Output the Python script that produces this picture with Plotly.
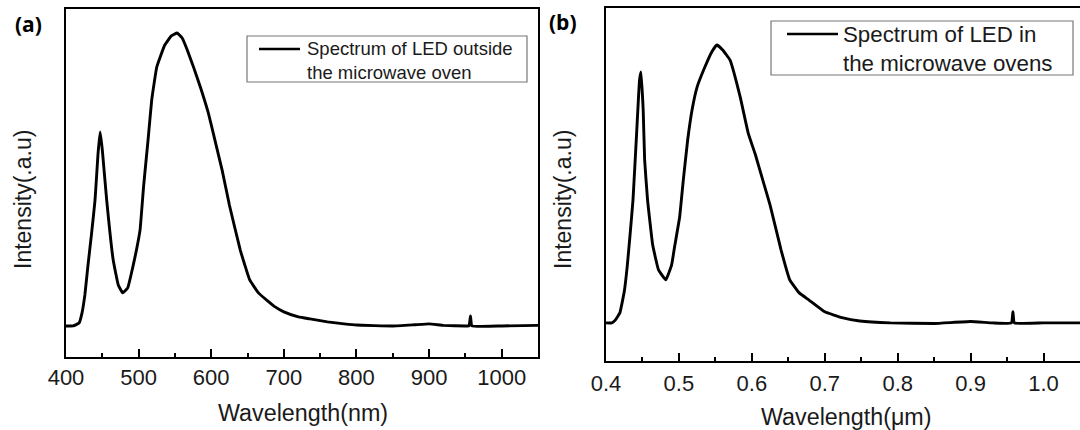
import plotly.graph_objects as go

# ---------------- data ----------------
wl_a = [400, 410, 418, 422, 426, 430, 435, 440, 444, 447, 450, 456, 465, 472, 478, 485,
        492, 497, 502, 507, 513, 518, 525, 536, 545, 553, 560, 567, 576, 585, 596, 605,
        615, 625, 640, 653, 665, 678, 688, 700, 720, 736, 760, 783, 800, 850, 880, 900,
        920, 950, 955, 957, 959, 1000, 1050]
int_a = [0.0, 0.0, 0.010, 0.044, 0.106, 0.201, 0.311, 0.430, 0.584, 0.662, 0.601, 0.430,
         0.225, 0.140, 0.113, 0.130, 0.201, 0.259, 0.328, 0.481, 0.635, 0.771, 0.884,
         0.959, 0.990, 1.0, 0.983, 0.942, 0.881, 0.816, 0.727, 0.635, 0.532, 0.413,
         0.259, 0.157, 0.113, 0.085, 0.065, 0.048, 0.031, 0.024, 0.014, 0.007, 0.003,
         0.0, 0.004, 0.007, 0.002, 0.0, 0.0, 0.034, 0.0, 0.0, 0.002]

wl_b = [0.400, 0.408, 0.413, 0.419, 0.425, 0.429, 0.433, 0.437, 0.442, 0.446, 0.448,
        0.451, 0.453, 0.457, 0.464, 0.472, 0.482, 0.490, 0.494, 0.501, 0.506, 0.512,
        0.518, 0.525, 0.535, 0.545, 0.552, 0.560, 0.570, 0.584, 0.595, 0.605, 0.615,
        0.625, 0.640, 0.652, 0.665, 0.678, 0.700, 0.725, 0.748, 0.790, 0.850, 0.900,
        0.930, 0.956, 0.958, 0.960, 1.000, 1.050]
int_b = [0.0, 0.0, 0.011, 0.036, 0.112, 0.201, 0.317, 0.442, 0.683, 0.874, 0.903,
         0.766, 0.586, 0.442, 0.281, 0.191, 0.155, 0.209, 0.273, 0.381, 0.514, 0.658,
         0.766, 0.849, 0.917, 0.975, 1.0, 0.982, 0.946, 0.813, 0.683, 0.604, 0.514,
         0.424, 0.263, 0.155, 0.108, 0.083, 0.040, 0.018, 0.007, 0.0, -0.002, 0.005,
         0.0, 0.0, 0.040, 0.0, 0.0, 0.0]

ticks_a = [400, 500, 600, 700, 800, 900, 1000]
ticks_b = [0.4, 0.5, 0.6, 0.7, 0.8, 0.9, 1.0]

label_a = "Spectrum of LED outside<br>the microwave oven"
label_b = "Spectrum of LED in<br>the microwave ovens"

# ---------------- figure ----------------
W, H = 1080, 430
def px(x):
    return x / W
def py(y):
    return 1 - y / H

FONT = "Liberation Sans, Arial, sans-serif"
TXT = "#1a1a1a"

fig = go.Figure()
fig.add_trace(go.Scatter(x=wl_a, y=int_a, mode="lines", xaxis="x", yaxis="y",
                         line=dict(color="black", width=2.9, shape="spline", smoothing=0.3),
                         showlegend=False))
fig.add_trace(go.Scatter(x=wl_b, y=int_b, mode="lines", xaxis="x2", yaxis="y2",
                         line=dict(color="black", width=2.9, shape="spline", smoothing=0.3),
                         showlegend=False))

xcommon = dict(showgrid=False, zeroline=False, showline=True, linecolor="black", linewidth=2,
               ticks="inside", ticklen=8, tickwidth=2, tickcolor="black", automargin=False,
               tickfont=dict(family=FONT, size=22, color=TXT))
ycommon = dict(showgrid=False, zeroline=False, showline=True, linecolor="black", linewidth=2,
               showticklabels=False, ticks="", automargin=False)

fig.update_layout(
    width=W, height=H, margin=dict(l=0, r=0, t=0, b=0, autoexpand=False),
    paper_bgcolor="white", plot_bgcolor="white",
    xaxis=dict(domain=[px(66), px(538)], range=[400, 1050], anchor="y", mirror=True,
               tickvals=ticks_a, ticklabelstandoff=0,
               minor=dict(ticks="inside", ticklen=4, tickwidth=2, tickcolor="black", dtick=50,
                          tick0=0, showgrid=False),
               **xcommon),
    yaxis=dict(domain=[py(357), py(9)], range=[-0.106, 1.082], anchor="x", mirror=True,
               **ycommon),
    xaxis2=dict(domain=[px(606), 1.0], range=[0.4, 1.05], anchor="y2", mirror=True,
                tickvals=ticks_b, tickformat=".1f", ticklabelstandoff=2,
                minor=dict(ticks="inside", ticklen=4, tickwidth=2, tickcolor="black",
                           dtick=0.05, tick0=0, showgrid=False),
                **xcommon),
    yaxis2=dict(domain=[py(361), py(8)], range=[-0.137, 1.133], anchor="x2", mirror=False,
                **ycommon),
)

shapes = []
annotations = []

# legend (a)
shapes.append(dict(type="rect", xref="paper", yref="paper", x0=px(247), x1=px(527),
                   y0=py(82), y1=py(36), line=dict(color="#777777", width=1.2)))
shapes.append(dict(type="line", xref="paper", yref="paper", x0=px(259), x1=px(300),
                   y0=py(49), y1=py(49), line=dict(color="black", width=2.6)))
annotations.append(dict(text=label_a, xref="paper", yref="paper", x=px(305), y=py(61),
                        xanchor="left", yanchor="middle", align="left", showarrow=False,
                        font=dict(family=FONT, size=18.5, color=TXT)))
# legend (b)
shapes.append(dict(type="rect", xref="paper", yref="paper", x0=px(771), x1=px(1073),
                   y0=py(75), y1=py(21), line=dict(color="#777777", width=1.2)))
shapes.append(dict(type="line", xref="paper", yref="paper", x0=px(787), x1=px(838),
                   y0=py(34), y1=py(34), line=dict(color="black", width=2.6)))
annotations.append(dict(text=label_b, xref="paper", yref="paper", x=px(841), y=py(49),
                        xanchor="left", yanchor="middle", align="left", showarrow=False,
                        font=dict(family=FONT, size=22.3, color=TXT)))

# axis titles
for x, y, t in [(303, 413, "Wavelength(nm)"), (846, 417, "Wavelength(μm)")]:
    annotations.append(dict(text=t, xref="paper", yref="paper", x=px(x), y=py(y),
                            xanchor="center", yanchor="middle", showarrow=False,
                            font=dict(family=FONT, size=23.3, color=TXT)))
for x, y in [(23, 200), (563, 200)]:
    annotations.append(dict(text="Intensity(.a.u)", xref="paper", yref="paper", x=px(x),
                            y=py(y), xanchor="center", yanchor="middle", textangle=-90,
                            showarrow=False, font=dict(family=FONT, size=23, color=TXT)))
# panel labels
for x, y, t in [(28, 24, "(a)"), (563, 22, "(b)")]:
    annotations.append(dict(text="<b>" + t + "</b>", xref="paper", yref="paper", x=px(x),
                            y=py(y), xanchor="center", yanchor="middle", showarrow=False,
                            font=dict(family="Open Sans, sans-serif", size=21, color="black")))

fig.update_layout(shapes=shapes, annotations=annotations)
fig.write_html("out.html")
